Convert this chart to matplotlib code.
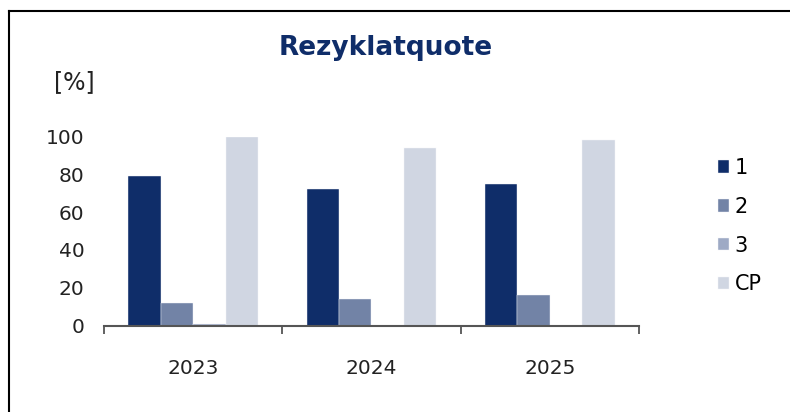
import numpy as np
import matplotlib.pyplot as plt
from matplotlib.lines import Line2D

years = ["2023", "2024", "2025"]
series_names = ["1", "2", "3", "CP"]
s1 = [79, 72, 75]
s2 = [12, 14, 16]
s3 = [1, 0, 0]
cp = [100, 94, 98]
colors = ["#0f2d69", "#7283a6", "#9eaac5", "#d0d6e2"]


def main():
    fig = plt.figure(figsize=(7.9, 4.12), dpi=100)
    ax = fig.add_axes([104 / 790, 1 - 325.5 / 412, 535 / 790, 189 / 412])

    x = np.arange(len(years))
    w = 0.182
    for i, (vals, name) in enumerate(zip([s1, s2, s3, cp], series_names)):
        ax.bar(x + (i - 1.5) * w, vals, w, color=colors[i], label=name,
               edgecolor="#f4f5f8", linewidth=0.3)

    ax.set_xlim(-0.5, 2.5)
    ax.set_ylim(0, 100)
    ax.set_yticks(range(0, 101, 20))
    ax.set_xticks(x)
    ax.set_xticklabels(years)
    ax.set_xticks([-0.5, 0.5, 1.5, 2.5], minor=True)
    ax.tick_params(axis="x", which="major", length=0, pad=24, labelsize=14.5,
                   labelcolor="#222222")
    ax.tick_params(axis="x", which="minor", length=6, width=1.3,
                   color="#555555", direction="out")
    ax.tick_params(axis="y", length=0, pad=14, labelsize=14.5,
                   labelcolor="#222222")

    for side in ["top", "right", "left"]:
        ax.spines[side].set_visible(False)
    ax.spines["bottom"].set_color("#555555")
    ax.spines["bottom"].set_linewidth(1.5)

    fig.text(386 / 790, 1 - 48 / 412, "Rezyklatquote", ha="center",
             va="center", fontsize=19, fontweight="bold", color="#0f2d69")
    fig.text(74 / 790, 1 - 82 / 412, "[%]", ha="center", va="center",
             fontsize=17, color="#222222")

    ax.legend(loc="upper left", bbox_to_anchor=(718 / 790, 1 - 158 / 412),
              bbox_transform=fig.transFigure, frameon=False, fontsize=15,
              handlelength=0.55, handleheight=0.55, handletextpad=0.25,
              labelspacing=0.9, borderaxespad=0, borderpad=0)

    # frame lines (left and top edge)
    fig.add_artist(Line2D([8.5 / 790, 8.5 / 790], [0, 1 - 11 / 412],
                          color="black", linewidth=1.5,
                          transform=fig.transFigure))
    fig.add_artist(Line2D([8.5 / 790, 1], [1 - 11 / 412, 1 - 11 / 412],
                          color="black", linewidth=1.5,
                          transform=fig.transFigure))

    fig.savefig("out.png", dpi=100)


if __name__ == "__main__":
    main()
